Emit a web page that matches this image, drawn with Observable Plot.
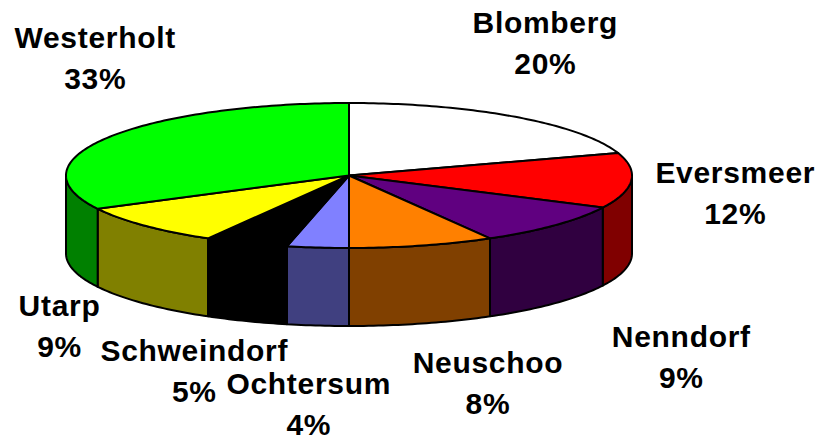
<!DOCTYPE html>
<html><head><meta charset="utf-8">
<script src="https://cdn.jsdelivr.net/npm/d3@7"></script>
<script src="https://cdn.jsdelivr.net/npm/@observablehq/plot@0.6"></script>
<style>
html,body{margin:0;padding:0;background:#fff;}
#chart svg text{letter-spacing:0.7px;}
</style>
</head><body><div id="chart"></div>
<script>
// ---- data ----
const districts = ["Blomberg","Eversmeer","Nenndorf","Neuschoo","Ochtersum","Schweindorf","Utarp","Westerholt"];
const shares = [20.0, 12.3, 9.4, 8.3, 3.52, 4.78, 9.1, 32.6];
const topColors = ["#ffffff","#ff0000","#600080","#ff8000","#8080ff","#000000","#ffff00","#00ff00"];
const wallColors = ["#808080","#800000","#300040","#804000","#404080","#000000","#808000","#008000"];

// ---- layout ----
const W = 822, H = 442;
const CX = 348.5, CY = 175, R = 283;        // pie centre and radius (px)
const TILT = 72.5 / 283, DEPTH = 78 / 283;    // ellipse squash and wall height (pie units)
const labelOffsets = [[30,-76],[104,-68],[126,51],[66,57],[-9,76],[-52,47],[-85,20],[-12,-82]];

const total = d3.sum(shares);
const rad = d => d * Math.PI / 180;
const pt = (deg, z) => ({x: Math.sin(rad(deg)), y: TILT * Math.cos(rad(deg)) - z * DEPTH});
function arc(a0, a1, z) {
  const n = Math.max(2, Math.ceil(Math.abs(a1 - a0)));
  return d3.range(n + 1).map(i => pt(a0 + (a1 - a0) * i / n, z));
}

let acc = 0;
const slices = districts.map((name, i) => {
  const a0 = acc / total * 360; acc += shares[i];
  const a1 = acc / total * 360;
  return {name, i, a0, a1, mid: (a0 + a1) / 2};
});

const walls = [], tops = [];
for (const s of slices) {
  const lo = Math.max(s.a0, 90), hi = Math.min(s.a1, 270);
  if (lo < hi) {
    const pts = arc(lo, hi, 0).concat(arc(hi, lo, 1));
    pts.forEach(p => walls.push({key: s.name + "-wall", fill: wallColors[s.i], ...p}));
  }
  const tp = [{x: 0, y: 0}].concat(arc(s.a0, s.a1, 0));
  tp.forEach(p => tops.push({key: s.name + "-top", fill: topColors[s.i], ...p}));
}
const faces = walls.concat(tops);

const labels = slices.map(s => {
  const sn = Math.sin(rad(s.mid)), cs = Math.cos(rad(s.mid));
  const px = CX + R * sn + labelOffsets[s.i][0];
  const py = CY - R * TILT * cs + (cs < 0 ? R * DEPTH : 0) + labelOffsets[s.i][1];
  return {x: (px - CX) / R, y: (CY - py) / R,
          text: s.name + "\n" + Math.round(shares[s.i] / total * 100) + "%"};
});

const chart = Plot.plot({
  width: W, height: H, margin: 0,
  style: {background: "#fff"},
  x: {domain: [-CX / R, (W - CX) / R], range: [0, W], axis: null},
  y: {domain: [-(H - CY) / R, CY / R], range: [H, 0], axis: null},
  color: {type: "identity"},
  marks: [
    Plot.line(faces, {x: "x", y: "y", z: "key", fill: "fill", stroke: "#000",
      strokeWidth: 2, strokeLinejoin: "round", curve: "linear-closed"}),
    Plot.text(labels, {x: "x", y: "y", text: "text", fontFamily: "Liberation Sans, Arial, sans-serif",
      fontWeight: "bold", fontSize: 30, lineHeight: 1.367, textAnchor: "middle",
      lineAnchor: "middle", fill: "#000"})
  ]
});
document.getElementById("chart").appendChild(chart);
</script>
</body></html>
